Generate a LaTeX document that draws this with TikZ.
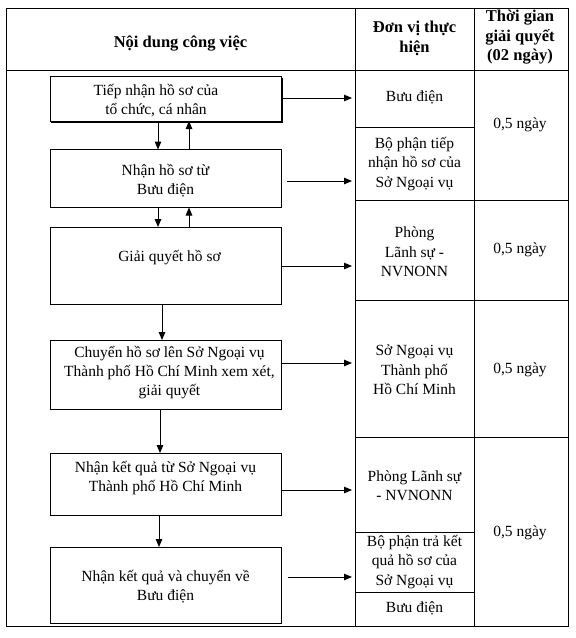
\documentclass[tikz,border=0pt]{standalone}
\usepackage{fontspec}
\setmainfont{Liberation Serif}
\usetikzlibrary{arrows.meta,calc}
\begin{document}
\begin{tikzpicture}[x=1pt,y=-1pt,
  every node/.style={inner sep=0pt, outer sep=0pt, align=center},
  txt/.style={font=\fontsize{15.5}{19}\selectfont},
  cellt/.style={font=\fontsize{15.5}{19.5}\selectfont},
  hdr/.style={font=\fontsize{16.5}{19.5}\selectfont\bfseries},
  frame/.style={draw, line width=1pt, minimum width=#1},
  flowbox/.style={draw, line width=1pt, minimum width=231},
  arr/.style={-{Triangle[length=8pt,width=6.5pt]}, line width=1pt},
]
\useasboundingbox (0,0) rectangle (576,638);

% ---------- table ----------
\node[frame=349, minimum height=62] (h1) at (180.5,39) {};
\node[frame=119, minimum height=62] (h2) at (414.5,39) {};
\node[frame=94,  minimum height=62] (h3) at (521,39) {};
\node[frame=349, minimum height=556] (c1) at (180.5,348) {};

\node[frame=119, minimum height=57]  (m1) at (414.5,98.5) {};
\node[frame=119, minimum height=73]  (m2) at (414.5,163.5) {};
\node[frame=119, minimum height=100] (m3) at (414.5,250) {};
\node[frame=119, minimum height=137] (m4) at (414.5,368.5) {};
\node[frame=119, minimum height=95]  (m5) at (414.5,484.5) {};
\node[frame=119, minimum height=60]  (m6) at (414.5,562) {};
\node[frame=119, minimum height=34]  (m7) at (414.5,609) {};

\node[frame=94, minimum height=130] (t1) at (521,135) {};
\node[frame=94, minimum height=100] (t2) at (521,250) {};
\node[frame=94, minimum height=137] (t3) at (521,368.5) {};
\node[frame=94, minimum height=189] (t4) at (521,531.5) {};

% header texts
\node[hdr] (h1txt) at (180.5,43) {Nội dung công việc};
\node[hdr] (h2txt) at (414.5,38.5) {Đơn vị thực\\hiện};
\node[hdr] (h3txt) at (520,37.5) {Thời gian\\giải quyết\\(02 ngày)};

% middle column texts
\node[cellt] (m1txt) at (414.5,97) {Bưu điện};
\node[cellt] (m2txt) at (414.5,164) {Bộ phận tiếp\\nhận hồ sơ của\\Sở Ngoại vụ};
\node[cellt] (m3txt) at (414.5,252) {Phòng\\Lãnh sự -\\NVNONN};
\node[cellt] (m4txt) at (414.5,370) {Sở Ngoại vụ\\Thành phố\\Hồ Chí Minh};
\node[cellt] (m5txt) at (414.5,485.5) {Phòng Lãnh sự\\- NVNONN};
\node[cellt] (m6txt) at (414.5,562) {Bộ phận trả kết\\quả hồ sơ của\\Sở Ngoại vụ};
\node[cellt] (m7txt) at (414.5,608) {Bưu điện};

% time texts
\node[cellt] (t1txt) at (520,125) {0,5 ngày};
\node[cellt] (t2txt) at (520,250) {0,5 ngày};
\node[cellt] (t3txt) at (520,370) {0,5 ngày};
\node[cellt] (t4txt) at (520,533) {0,5 ngày};

% ---------- flow boxes ----------
\node[flowbox, minimum height=45] (b1) at (165.5,98.5) {};
\draw[line width=1.8pt] ($(b1.south west)+(1,1.2)$) -- ($(b1.south east)+(1.2,1.2)$) -- ($(b1.north east)+(1.2,2)$);
\node[flowbox, minimum height=58] (b2) at (165.5,178.5) {};
\node[flowbox, minimum height=77] (b3) at (165.5,265.5) {};
\node[flowbox, minimum height=69] (b4) at (165.5,374.5) {};
\node[flowbox, minimum height=62] (b5) at (165.5,484) {};
\node[flowbox, minimum height=76] (b6) at (165.5,585) {};

\node[txt] (b1txt) at (156,100.5) {Tiếp nhận hồ sơ của\\tổ chức, cá nhân};
\node[txt] (b2txt) at (165.5,180.5) {Nhận hồ sơ từ\\Bưu điện};
\node[txt] (b3txt) at (169.5,258) {Giải quyết hồ sơ};
\node[txt] (b4txt) at (169.5,372.5) {Chuyển hồ sơ lên Sở Ngoại vụ\\Thành phố Hồ Chí Minh xem xét,\\giải quyết};
\node[txt] (b5txt) at (165.5,478) {Nhận kết quả từ Sở Ngoại vụ\\Thành phố Hồ Chí Minh};
\node[txt] (b6txt) at (165.5,586.5) {Nhận kết quả và chuyển về\\Bưu điện};

% ---------- vertical connectors ----------
\coordinate (d12) at (158,0);
\coordinate (u12) at (189,0);
\draw[arr] (b1.south -| d12) -- (b2.north -| d12);
\draw[arr] (b2.north -| u12) -- (b1.south -| u12);
\draw[arr] (b2.south -| d12) -- (b3.north -| d12);
\draw[arr] (b3.north -| u12) -- (b2.south -| u12);
\coordinate (d34) at (162,0);
\draw[arr] (b3.south -| d34) -- (b4.north -| d34);
\coordinate (d45) at (160,0);
\draw[arr] (b4.south -| d45) -- (b5.north -| d45);
\coordinate (d56) at (159,0);
\draw[arr] (b5.south -| d56) -- (b6.north -| d56);

% ---------- horizontal connectors ----------
\coordinate (y1) at (0,98);
\coordinate (y2) at (287,181);
\coordinate (y3) at (0,266);
\coordinate (y4) at (0,363);
\coordinate (y5) at (0,490);
\coordinate (y6) at (288,577);
\draw[arr, shorten >=3pt] (b1.east |- y1) -- (m1.west |- y1);
\draw[arr, shorten >=3pt] (y2) -- (m2.west |- y2);
\draw[arr, shorten >=3pt] (b3.east |- y3) -- (m3.west |- y3);
\draw[arr, shorten >=3pt] (b4.east |- y4) -- (m4.west |- y4);
\draw[arr, shorten >=3pt] (b5.east |- y5) -- (m5.west |- y5);
\draw[arr, shorten >=3pt] (y6) -- (m6.west |- y6);
\end{tikzpicture}
\end{document}
